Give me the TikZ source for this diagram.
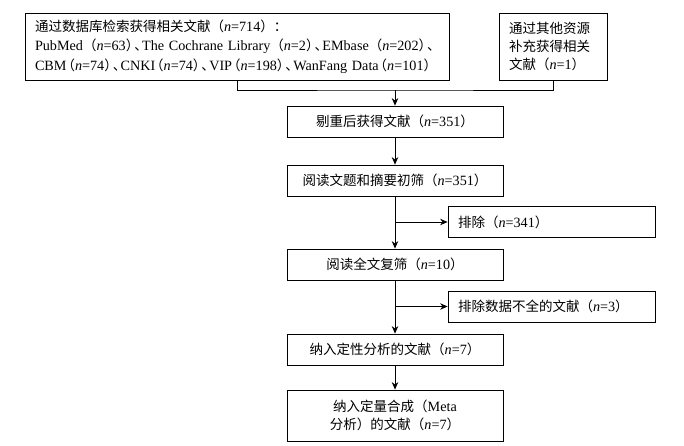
\documentclass[tikz,border=0pt]{standalone}
\usepackage{fontspec}
\setmainfont[Scale=1.05]{Liberation Serif}
\newfontfamily\cjk{Noto Sans CJK SC}
\usetikzlibrary{arrows.meta}
\newcommand\zh[1]{{\cjk #1}}
\newcommand\nn[1]{\zh{（}\textit{n}=#1\zh{）}}
% compact punctuation for the database list
\newcommand\op{\makebox[0.6em][r]{\zh{（}}}
\newcommand\cp{\makebox[0.6em][l]{\zh{）}}}
\newcommand\dun{\makebox[0.55em][l]{\zh{、}}}
\newcommand\mm[1]{\op\textit{n}=#1\cp}
\tikzset{
  box/.style={draw, line width=0.8pt, inner sep=0pt, minimum height=31pt,
    align=center, font=\fontsize{13.5}{18}\selectfont},
  flow/.style={line width=0.8pt, -{Stealth[length=7.5pt,width=6.5pt]}},
}
\begin{document}
\begin{tikzpicture}[x=1pt,y=-1pt]
  \useasboundingbox (0,0) rectangle (684,445);
  \draw
    (237,46.5) node[box, minimum width=424pt, minimum height=67pt, text width=404pt, align=left,
      font=\fontsize{13.5}{19.5}\selectfont] (db)
      {\mbox{\zh{通过数据库检索获得相关文献}\nn{714}\zh{：}}\\
       \mbox{PubMed\zh{（}\textit{n}=63\cp\dun The Cochrane Library\zh{（}\textit{n}=2\cp\dun EMbase\zh{（}\textit{n}=202\cp\dun}\\
       \mbox{CBM\mm{74}\dun CNKI\mm{74}\dun VIP\mm{198}\dun WanFang Data\mm{101}}}
    (553,46.5) node[box, minimum width=108pt, minimum height=67pt, text width=88pt, align=left] (other)
      {\zh{通过其他资源}\\\zh{补充获得相关}\\\mbox{\zh{文献}\nn{1}}}
    (395,121.5) node[box, minimum width=216pt] (dedup) {\zh{剔重后获得文献}\nn{351}}
    (395,180.5) node[box, minimum width=216pt] (title) {\zh{阅读文题和摘要初筛}\nn{351}}
    (551.5,222) node[box, minimum width=207pt, text width=187pt, align=left] (ex1) {\zh{排除}\nn{341}}
    (395,264.5) node[box, minimum width=216pt] (full) {\zh{阅读全文复筛}\nn{10}}
    (551.5,306.5) node[box, minimum width=207pt, text width=187pt, align=left] (ex2) {\zh{排除数据不全的文献}\nn{3}}
    (395,349.5) node[box, minimum width=216pt] (qual) {\zh{纳入定性分析的文献}\nn{7}}
    (395,415.5) node[box, minimum width=216pt, minimum height=51pt] (meta)
      {\zh{纳入定量合成（}Meta\\\zh{分析）的文献}\nn{7}};
  \coordinate (m) at (395,90);
  \coordinate (j1) at (title.south |- ex1.west);
  \coordinate (j2) at (full.south |- ex2.west);
  \begin{scope}[line width=0.8pt]
    \draw (db.south) |- (m) -| (other.south);
    \draw[flow] (m) to (dedup.north);
    \draw[flow] (dedup) to (title);
    \draw[flow] (title) to (full);
    \draw[flow] (j1) to (ex1.west);
    \draw[flow] (full) to (qual);
    \draw[flow] (j2) to (ex2.west);
    \draw[flow] (qual) to (meta);
  \end{scope}
\end{tikzpicture}
\end{document}
